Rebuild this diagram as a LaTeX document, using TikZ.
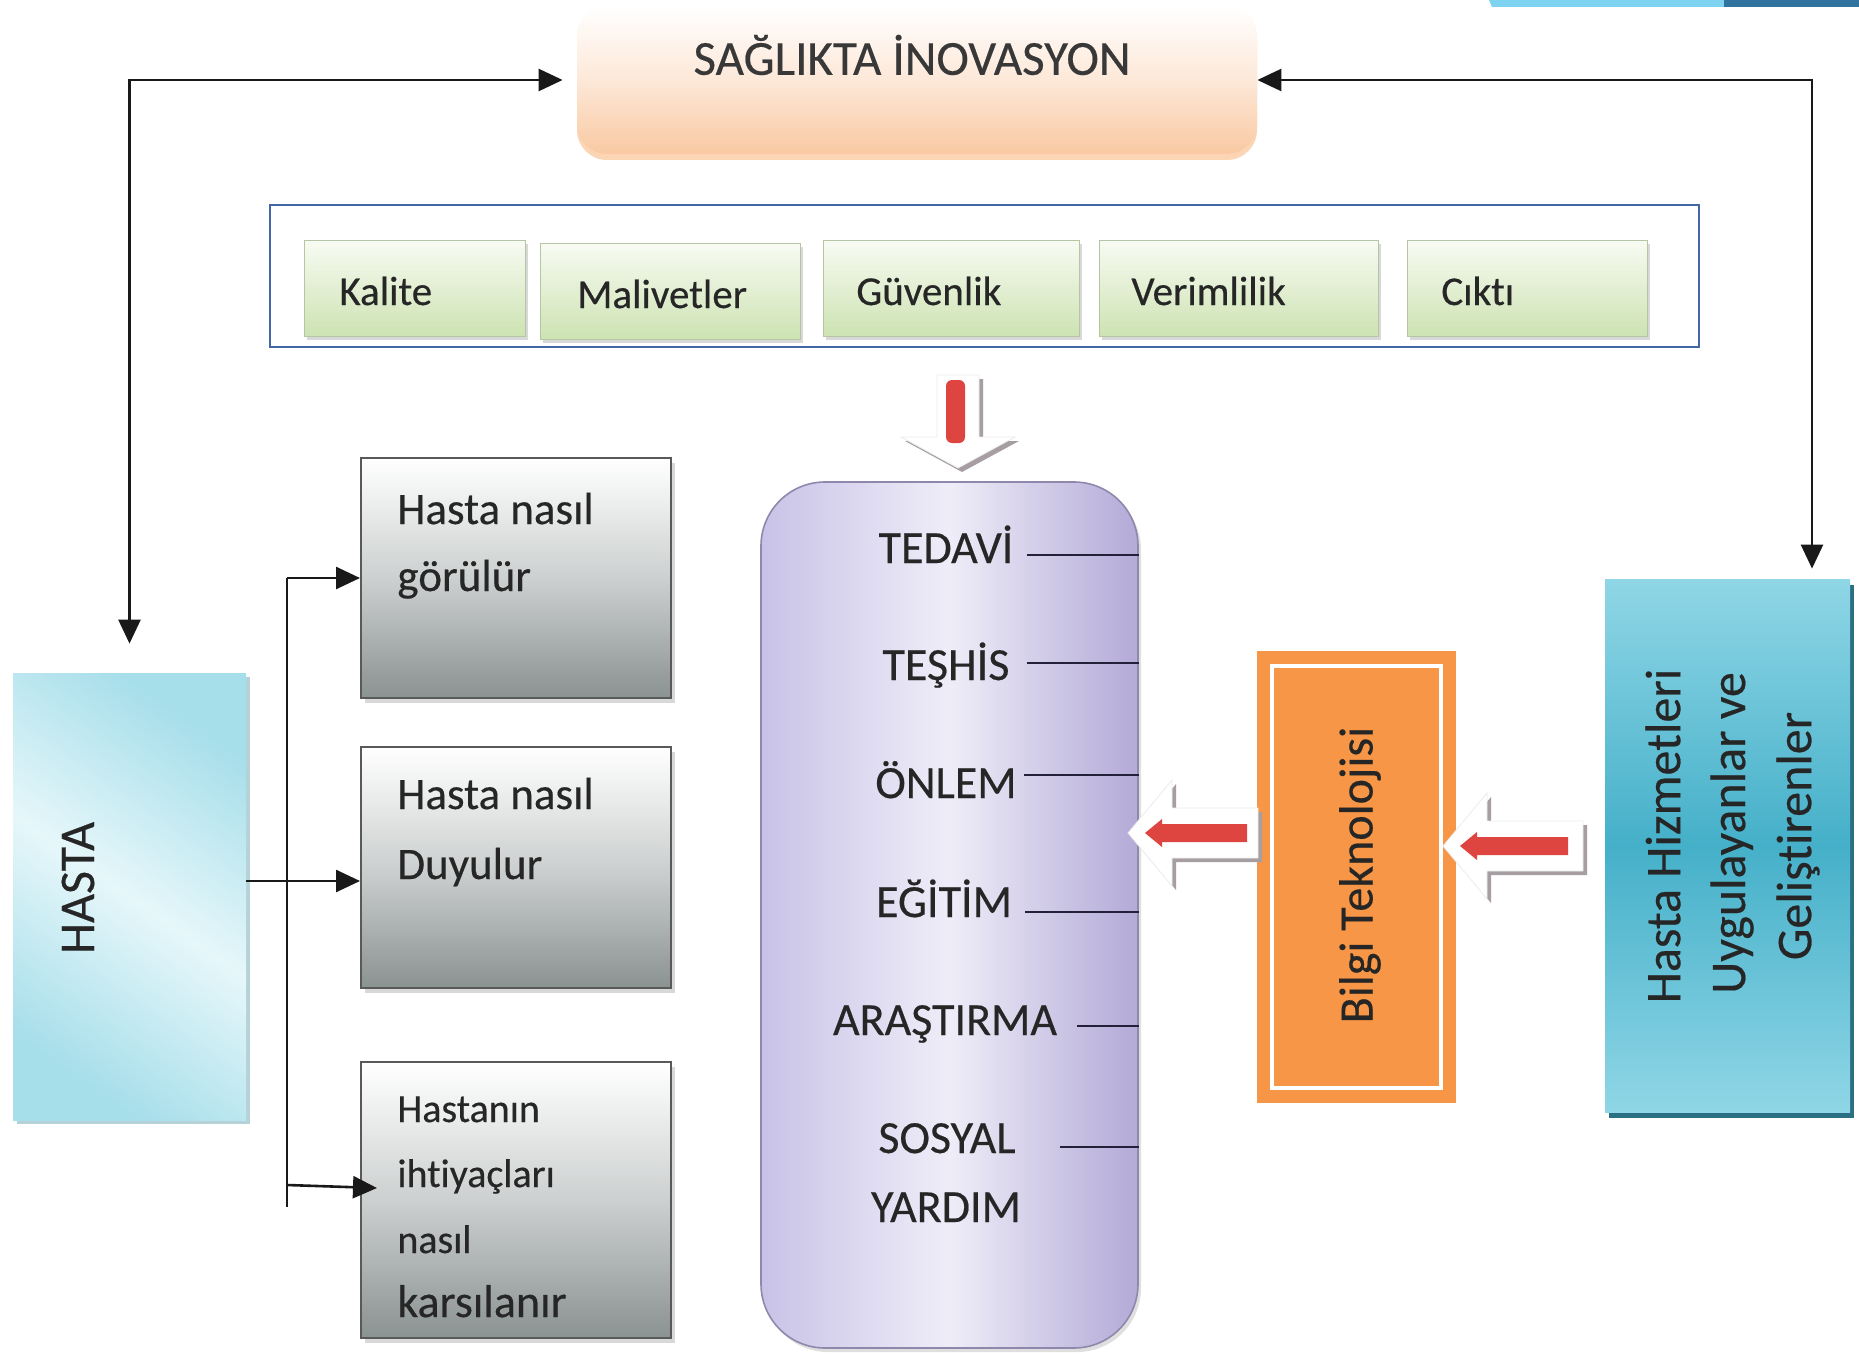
\documentclass[tikz,border=0pt]{standalone}
\usepackage{fontspec}
\setmainfont{Carlito}[RawFeature=-liga, FakeBold=0.4]
\usetikzlibrary{shadows,calc,arrows.meta}
\definecolor{txt}{HTML}{262626}
\definecolor{peach}{HTML}{F9C9A2}
\definecolor{peachm}{HTML}{FDE8D8}
\definecolor{framebl}{HTML}{4266A8}
\definecolor{grtop}{HTML}{F8FBF3}
\definecolor{grbot}{HTML}{CDE3B2}
\definecolor{grayb}{HTML}{8B9292}
\definecolor{graym}{HTML}{CDD0D0}
\definecolor{lavl}{HTML}{C9C2E7}
\definecolor{lavm}{HTML}{EFEDF8}
\definecolor{lavr}{HTML}{B3AAD7}
\definecolor{cyl}{HTML}{A6DEEA}
\definecolor{cym}{HTML}{E6F7FA}
\definecolor{cyd}{HTML}{45B0C9}
\definecolor{cyt}{HTML}{8FD6E6}
\definecolor{cysh}{HTML}{2B6F82}
\definecolor{orng}{HTML}{F79646}
\definecolor{redar}{HTML}{DE4440}
\definecolor{barl}{HTML}{7DD3F0}
\definecolor{bard}{HTML}{31739F}
\definecolor{arsh}{HTML}{A69EA3}
\definecolor{tickc}{HTML}{23213A}
\begin{document}
\begin{tikzpicture}[x=0.5pt,y=-0.5pt,
  lbl/.style={text=txt, inner sep=0pt},
  tfont/.style={font=\fontsize{24.5}{29}\selectfont},
  gfont/.style={font=\fontsize{20.5}{25}\selectfont},
  pfont/.style={font=\fontsize{23}{28}\selectfont},
  bfont/.style={font=\fontsize{22.5}{27}\selectfont},
  sfont/.style={font=\fontsize{20}{24}\selectfont},
  kfont/.style={font=\fontsize{23}{27}\selectfont},
  vfont/.style={font=\fontsize{25}{30}\selectfont},
  arr/.style={draw=black!90, line width=1.3pt, -{Triangle[length=12pt,width=11pt]}},
  arrboth/.style={draw=black!90, line width=1.3pt, {Triangle[length=12pt,width=11pt]}-{Triangle[length=12pt,width=11pt]}},
  ln/.style={draw=black!90, line width=1.3pt},
  tick/.style={draw=tickc, line width=1.4pt},
  topbox/.style={rounded corners=15pt, inner sep=0pt, top color=white, bottom color=peach, middle color=peachm,
     drop shadow={shadow xshift=0pt, shadow yshift=-3pt, fill=peach!80!orange, opacity=.6}},
  gbox/.style={inner sep=0pt, minimum height=48pt, top color=grtop, bottom color=grbot, draw=grbot!70!gray, line width=0.4pt,
     drop shadow={shadow xshift=1.5pt, shadow yshift=-2pt, opacity=.3}},
  gybox/.style={inner sep=0pt, minimum width=155pt, draw=black!65, line width=1pt, top color=white, bottom color=grayb, middle color=graym,
     drop shadow={shadow xshift=2pt, shadow yshift=-2.5pt, opacity=.3}},
  pbox/.style={inner sep=0pt, rounded corners=32pt, left color=lavl, right color=lavr, middle color=lavm, draw=lavr!80!black, line width=0.8pt,
     drop shadow={shadow xshift=1.5pt, shadow yshift=-2pt, opacity=.25}},
  hbox/.style={inner sep=0pt, top color=cyl, bottom color=cyl, middle color=cym, shading angle=-35,
     drop shadow={shadow xshift=2pt, shadow yshift=-2pt, fill=cyd!60!gray, opacity=.45}},
  rbox/.style={inner sep=0pt, top color=cyt, bottom color=cyt, middle color=cyd,
     drop shadow={shadow xshift=2pt, shadow yshift=-3pt, fill=cysh, opacity=1}},
  obox/.style={inner sep=0pt, fill=orng},
  wblock/.style={fill=white, draw=gray!15, line width=0.4pt, drop shadow={shadow xshift=2pt, shadow yshift=-2pt, fill=arsh, opacity=1}}
]
\useasboundingbox (0,0) rectangle (1859,1354);
\fill[white] (0,0) rectangle (1859,1354);

% top-right bar
\fill[barl] (1489,0) -- (1724,0) -- (1724,7) -- (1492,7) -- cycle;
\fill[bard] (1724,0) rectangle (1859,7);

% top box
\node[topbox, minimum width=340pt, minimum height=74pt] (top) at (917,80) {};
\node[lbl, tfont, text=black!78] (toptxt) at (912,55) {SAĞLIKTA İNOVASYON};

% frame with green boxes
\node[draw=framebl, line width=1.3pt, inner sep=0pt, minimum width=714.5pt, minimum height=71pt] (frame) at (984.5,276) {};
\node[gbox, minimum width=110.5pt] (kal) at (414.5,288) {};
\node[gbox, minimum width=130pt] (mal) at (670,291) {};
\node[gbox, minimum width=128pt] (guv) at (951,288) {};
\node[gbox, minimum width=139.5pt] (ver) at (1238.5,288) {};
\node[gbox, minimum width=120pt] (cik) at (1527,288) {};
\node[lbl, gfont, anchor=base west] (kalt) at (339,305) {Kalite};
\node[lbl, gfont, anchor=base west] (malt) at (577,308) {Malivetler};
\node[lbl, gfont, anchor=base west] (guvt) at (856,305) {Güvenlik};
\node[lbl, gfont, anchor=base west] (vert) at (1131,305) {Verimlilik};
\node[lbl, gfont, anchor=base west] (cikt) at (1441,305) {Cıktı};

% down block arrow
\path[wblock] (937,375) -- (979,375) -- (979,437) -- (1015,437) -- (958,468) -- (901,437) -- (937,437) -- cycle;
\fill[redar, rounded corners=3pt] (946,380) rectangle (965,443);

% purple box
\node[pbox, minimum width=188.5pt, minimum height=433pt] (pur) at (949.5,915) {};
\node[lbl, pfont, anchor=base] (ted) at (946,563) {TEDAVİ};
\node[lbl, pfont, anchor=base] (tes) at (946,680) {TEŞHİS};
\node[lbl, pfont, anchor=base] (onl) at (946,798) {ÖNLEM};
\node[lbl, pfont, anchor=base] (egi) at (944,917) {EĞİTİM};
\node[lbl, pfont, anchor=base] (ara) at (945,1035) {ARAŞTIRMA};
\node[lbl, pfont, anchor=base] (sos) at (947,1153) {SOSYAL};
\node[lbl, pfont, anchor=base] (yar) at (946,1222) {YARDIM};
\coordinate (k1) at (1027,555);
\coordinate (k2) at (1027,663);
\coordinate (k3) at (1024,775);
\coordinate (k4) at (1025,912);
\coordinate (k5) at (1077,1026);
\coordinate (k6) at (1060,1147);
\foreach \k in {k1,k2,k3,k4,k5,k6} \draw[tick] (\k) -- (\k -| pur.east);

% HASTA
\node[hbox, minimum width=116.5pt, minimum height=223.5pt] (hasta) at (129.5,896.5) {};
\node[lbl, vfont, rotate=90] (hastat) at (78,888) {HASTA};

% gray boxes
\node[gybox, minimum height=120pt] (g1) at (516,578) {};
\node[gybox, minimum height=120.5pt] (g2) at (516,867.5) {};
\node[gybox, minimum height=138pt] (g3) at (516,1200) {};
\node[lbl, bfont, anchor=base west] (g1a) at (397,524) {Hasta nasıl};
\node[lbl, bfont, anchor=base west] (g1b) at (397,591) {görülür};
\node[lbl, bfont, anchor=base west] (g2a) at (397,809) {Hasta nasıl};
\node[lbl, bfont, anchor=base west] (g2b) at (397,879) {Duyulur};
\node[lbl, sfont, anchor=base west] (g3a) at (397,1122) {Hastanın};
\node[lbl, sfont, anchor=base west] (g3b) at (397,1187) {ihtiyaçları};
\node[lbl, sfont, anchor=base west] (g3c) at (397,1253) {nasıl};
\node[lbl, kfont, anchor=base west] (g3d) at (397,1317) {karsılanır};

% orange box
\node[obox, minimum width=99.5pt, minimum height=226pt] (bt) at (1356.5,877) {};
\draw[white, line width=2pt] ([shift={(7.5pt,-7.5pt)}]bt.north west) rectangle ([shift={(-7.5pt,7.5pt)}]bt.south east);
\node[lbl, font=\fontsize{24}{29}\selectfont, rotate=90] (btt) at (1360,875) {Bilgi Teknolojisi};

% right cyan box
\node[rbox, minimum width=122.5pt, minimum height=266.5pt] (hh) at (1727.5,845.5) {};
\node[lbl, vfont, rotate=90] (hh1) at (1663,836) {Hasta Hizmetleri};
\node[lbl, vfont, rotate=90] (hh2) at (1732,833) {Uygulayanlar ve};
\node[lbl, vfont, rotate=90] (hh3) at (1798,836) {Geliştirenler};

% left block arrows
\path[wblock] (1128,833) -- (1172,780) -- (1172,808) -- (1258,808) -- (1258,858) -- (1172,858) -- (1172,886) -- cycle;
\fill[redar] (1145,833) -- (1162,819) -- (1162,824) -- (1247,824) -- (1247,842) -- (1162,842) -- (1162,847) -- cycle;
\begin{scope}[shift={(315,13)}]
\path[wblock] (1128,833) -- (1172,780) -- (1172,808) -- (1268,808) -- (1268,858) -- (1172,858) -- (1172,886) -- cycle;
\fill[redar] (1145,833) -- (1162,819) -- (1162,824) -- (1253,824) -- (1253,842) -- (1162,842) -- (1162,847) -- cycle;
\end{scope}

% connectors
\draw[arrboth] ([yshift=14.5pt]hasta.north) |- ([xshift=-7pt]top.west);
\draw[arrboth] ([xshift=42.25pt, yshift=5pt]hh.north) |- (top.east);
\coordinate (bkt) at (287,578);
\coordinate (bkb) at (287,1207);
\draw[ln] (bkt) -- (bkb);
\draw[arr] (bkt) -- (g1.west);
\coordinate (h2) at (246,881);
\draw[arr] (h2) -- (h2 -| g2.west);
\coordinate (b3) at (287,1185);
\coordinate (b3e) at (377,1188);
\draw[arr] (b3) -- (b3e);
\end{tikzpicture}
\end{document}
